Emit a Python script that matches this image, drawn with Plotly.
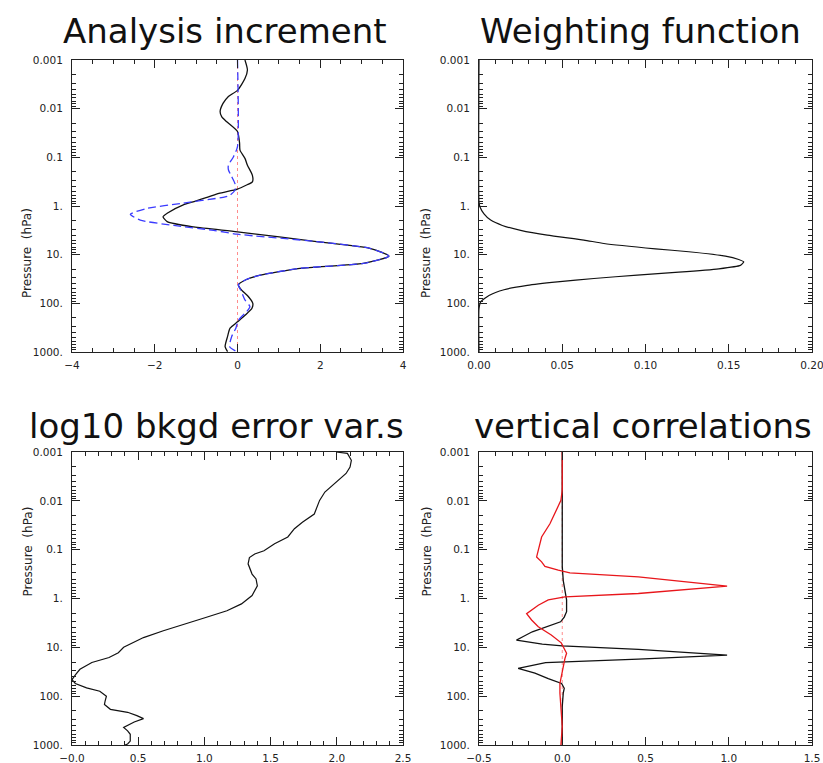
import plotly.graph_objects as go

# ---------------- data ----------------
# Panel 1: Analysis increment  (pressure hPa, increment)
inc_black_p = [0.001, 0.0016, 0.0024, 0.0042, 0.0056, 0.0078, 0.0115, 0.0148, 0.0186, 0.0295,
               0.051, 0.071, 0.105, 0.145, 0.234, 0.32, 0.37, 0.45, 0.55, 0.65, 0.81, 0.95,
               1.41, 1.66, 2.09, 2.69, 3.39, 5.37, 7.41, 10.7, 15.1, 19.1, 26.3, 33.1, 41.7,
               53.7, 72.4, 100, 126, 174, 240, 324, 479, 776, 980]
inc_black_x = [0.18, 0.24, 0.18, 0.0, -0.22, -0.35, -0.42, -0.38, -0.26, 0.0,
               0.05, 0.06, 0.18, 0.24, 0.36, 0.36, 0.22, 0.0, -0.45, -0.7, -1.05, -1.31,
               -1.7, -1.8, -1.7, -1.06, 0.0, 1.91, 3.2, 3.66, 3.04, 1.51, 0.55, 0.19, 0.02,
               0.1, 0.26, 0.37, 0.35, 0.19, 0.0, -0.18, -0.24, -0.3, -0.24]
inc_blue_p = [0.001, 0.06, 0.098, 0.145, 0.18, 0.25, 0.35, 0.47, 0.6, 0.65, 0.89, 1.12, 1.48,
              1.95, 2.51, 3.16, 3.8, 5.37, 7.41, 10.7, 15.1, 19.1, 26.3, 33.1, 41.7, 53.7,
              85, 117, 148, 224, 324, 479, 776, 1000]
inc_blue_x = [0.0, 0.0, -0.1, -0.22, -0.22, -0.14, -0.06, -0.06, -0.18, -0.3, -1.38, -2.18,
              -2.59, -2.35, -1.54, -0.58, 0.0, 1.91, 3.2, 3.66, 3.04, 1.51, 0.55, 0.19, 0.02,
              0.08, 0.18, 0.3, 0.22, 0.02, -0.04, -0.14, -0.19, 0.0]

# Panel 2: Weighting function
wf_p = [0.001, 0.81, 1.05, 1.45, 1.95, 2.51, 3.16, 3.98, 5.01, 5.89, 7.59, 8.71, 10.7, 12.6,
        14.1, 16.6, 19.5, 22.9, 26.3, 30.9, 36.3, 42.7, 52.5, 69.2, 93.3, 129, 1000]
wf_x = [0.0, 0.0, 0.0006, 0.003, 0.007, 0.014, 0.025, 0.041, 0.063, 0.075, 0.106, 0.126, 0.148,
        0.156, 0.159, 0.157, 0.144, 0.12, 0.095, 0.069, 0.047, 0.029, 0.015, 0.006, 0.001, 0.0, 0.0]

# Panel 3: log10 background error variances
var_p = [0.001, 0.00107, 0.00148, 0.00204, 0.00275, 0.00417, 0.0066, 0.0098, 0.0186, 0.0275,
         0.0372, 0.055, 0.0759, 0.105, 0.123, 0.145, 0.195, 0.316, 0.398, 0.55, 0.87, 1.29,
         1.78, 2.45, 3.31, 4.57, 6.31, 7.94, 10.0, 12.9, 16.2, 20.4, 28.2, 35.5, 45.7, 55,
         67.6, 79.4, 100, 126, 148, 186, 214, 251, 288, 339, 437, 513, 603, 832, 955, 1000]
var_x = [1.995, 2.08, 2.11, 2.10, 2.07, 1.99, 1.91, 1.87, 1.83, 1.74,
         1.68, 1.63, 1.53, 1.45, 1.38, 1.34, 1.33, 1.36, 1.39, 1.40, 1.36, 1.28,
         1.17, 1.01, 0.85, 0.69, 0.54, 0.47, 0.39, 0.35, 0.28, 0.15, 0.06, 0.03, 0.0, 0.025,
         0.11, 0.21, 0.26, 0.25, 0.245, 0.29, 0.42, 0.49, 0.54, 0.47, 0.39, 0.42, 0.44, 0.44, 0.42, 0.40]

# Panel 4: vertical correlations
cor_black_p = [0.001, 0.0052, 0.0135, 0.065, 0.22, 0.43, 0.78, 1.07, 1.86, 2.4, 3.0, 3.8, 4.8,
               6.0, 7.1, 8.6, 9.3, 10.96, 14.4, 17.4, 20.6, 27, 33.9, 43.7, 55, 69, 87, 162, 417, 1000]
cor_black_x = [0.0, 0.0, -0.004, 0.0, 0.0, 0.006, 0.02, 0.026, 0.026, 0.012, -0.01, -0.09, -0.18,
               -0.234, -0.275, -0.12, 0.0, 0.457, 0.99, 0.457, -0.10, -0.265, -0.164, -0.084,
               -0.004, 0.012, 0.006, 0.0, 0.0, 0.0]
cor_red_p = [0.001, 0.006, 0.0098, 0.0155, 0.0295, 0.055, 0.0955, 0.141, 0.178, 0.22, 0.263,
             0.298, 0.36, 0.557, 0.79, 0.93, 1.07, 1.37, 2.04, 2.75, 3.8, 5.6, 8.1, 13.2, 17,
             25, 55, 87, 174, 417, 1000]
cor_red_x = [0.0, 0.0, -0.008, -0.034, -0.074, -0.124, -0.144, -0.154, -0.124, -0.104, -0.024,
             0.046, 0.457, 0.99, 0.457, 0.016, -0.084, -0.144, -0.214, -0.184, -0.144, -0.066,
             -0.006, 0.026, 0.016, 0.006, -0.014, -0.014, -0.006, 0.0, -0.008]

# axis tick labels
p_tickvals = [0.001, 0.01, 0.1, 1, 10, 100, 1000]
p_ticktext = ["0.001", "0.01", "0.1", "1.", "10.", "100.", "1000."]
x1_vals = [-4, -2, 0, 2, 4]
x1_text = ["\u22124", "\u22122", "0", "2", "4"]
x2_vals = [0.0, 0.05, 0.10, 0.15, 0.20]
x2_text = ["0.00", "0.05", "0.10", "0.15", "0.20"]
x3_vals = [0.0, 0.5, 1.0, 1.5, 2.0, 2.5]
x3_text = ["\u22120.0", "0.5", "1.0", "1.5", "2.0", "2.5"]
x4_vals = [-0.5, 0.0, 0.5, 1.0, 1.5]
x4_text = ["\u22120.5", "0.0", "0.5", "1.0", "1.5"]

titles = ["Analysis increment", "Weighting function", "log10 bkgd error var.s", "vertical correlations"]

# ---------------- figure ----------------
W, H = 823, 763
fig = go.Figure()

BLACK = "#111111"
fig.add_trace(go.Scatter(x=[0, 0], y=[0.001, 1000], mode="lines", xaxis="x", yaxis="y",
                         line=dict(color="#ff8c8c", width=1, dash="dot")))
fig.add_trace(go.Scatter(x=inc_black_x, y=inc_black_p, mode="lines", xaxis="x", yaxis="y",
                         line=dict(color=BLACK, width=1.3, shape="spline", smoothing=0.6)))
fig.add_trace(go.Scatter(x=inc_blue_x, y=inc_blue_p, mode="lines", xaxis="x", yaxis="y",
                         line=dict(color="#3b3bff", width=1.3, dash="8px,4px", shape="spline", smoothing=0.6)))

fig.add_trace(go.Scatter(x=wf_x, y=wf_p, mode="lines", xaxis="x2", yaxis="y2",
                         line=dict(color=BLACK, width=1.2, shape="spline", smoothing=0.5)))

fig.add_trace(go.Scatter(x=var_x, y=var_p, mode="lines", xaxis="x3", yaxis="y3",
                         line=dict(color=BLACK, width=1.2)))

fig.add_trace(go.Scatter(x=[0, 0], y=[0.001, 1000], mode="lines", xaxis="x4", yaxis="y4",
                         line=dict(color="#ff8c8c", width=1, dash="dot")))
fig.add_trace(go.Scatter(x=cor_black_x, y=cor_black_p, mode="lines", xaxis="x4", yaxis="y4",
                         line=dict(color=BLACK, width=1.3)))
fig.add_trace(go.Scatter(x=cor_red_x, y=cor_red_p, mode="lines", xaxis="x4", yaxis="y4",
                         line=dict(color="#e8161b", width=1.3)))

colx = [(72, 403), (479, 812)]
rowy = [(60, 352), (452, 745)]
panels = [
    (0, 0, [-4, 4], x1_vals, x1_text, 0.5),
    (1, 0, [0, 0.2], x2_vals, x2_text, 0.01),
    (0, 1, [0, 2.5], x3_vals, x3_text, 0.1),
    (1, 1, [-0.5, 1.5], x4_vals, x4_text, 0.1),
]
minor_p = [m * 10.0 ** e for e in range(-3, 3) for m in range(2, 10)]
tickfont = dict(family="DejaVu Sans", size=10.5, color="#222222")

layout = dict(width=W, height=H, margin=dict(l=0, r=0, t=0, b=0, autoexpand=False),
              paper_bgcolor="white", plot_bgcolor="white", showlegend=False)
annotations = []
for i, (c, r, xr, xv, xt, mdt) in enumerate(panels):
    sfx = "" if i == 0 else str(i + 1)
    x0, x1 = colx[c]
    y0, y1 = rowy[r]
    layout["xaxis" + sfx] = dict(
        domain=[x0 / W, x1 / W], range=xr, anchor="y" + sfx, automargin=False,
        tickmode="array", tickvals=xv, ticktext=xt, ticks="inside", ticklen=8,
        tickcolor="#222", showline=True, linecolor="#222", linewidth=1, mirror="allticks",
        showgrid=False, zeroline=False, tickfont=tickfont, ticklabelstandoff=3,
        ticklabeloverflow="allow",
        minor=dict(ticks="inside", ticklen=4, dtick=mdt, tick0=xr[0], tickcolor="#222", showgrid=False),
    )
    layout["yaxis" + sfx] = dict(
        domain=[1 - y1 / H, 1 - y0 / H], type="log", range=[3, -3], anchor="x" + sfx, automargin=False,
        tickmode="array", tickvals=p_tickvals, ticktext=p_ticktext, ticks="inside", ticklen=8,
        tickcolor="#222", showline=True, linecolor="#222", linewidth=1, mirror="allticks",
        showgrid=False, zeroline=False, tickfont=tickfont, ticklabelstandoff=6,
        ticklabeloverflow="allow",
        minor=dict(ticks="inside", ticklen=4, tickmode="array", tickvals=minor_p, tickcolor="#222", showgrid=False),
    )
    # y-axis title
    annotations.append(dict(text="Pressure  (hPa)", x=(18 if c == 0 else 426) / W, y=1 - ((y0 + y1) / 2) / H,
                            xref="paper", yref="paper", showarrow=False, textangle=-90,
                            font=dict(family="DejaVu Sans", size=12, color="#222")))

title_pos = [(225, 31), (640, 31), (216, 426), (643, 426)]
for t, (tx, ty) in zip(titles, title_pos):
    annotations.append(dict(text=t, x=tx / W, y=1 - ty / H, xref="paper", yref="paper",
                            showarrow=False, xanchor="center", yanchor="middle",
                            font=dict(family="DejaVu Sans", size=34, color="#111")))
layout["annotations"] = annotations
fig.update_layout(**layout)
fig.write_html("out.html", config={"displayModeBar": False})

# remove the default page margin so the 823x763 figure fills the window exactly
with open("out.html", "r", encoding="utf-8") as f:
    html = f.read()
html = html.replace("<head>", "<head><style>html,body{margin:0;padding:0;overflow:hidden;}</style>", 1)
with open("out.html", "w", encoding="utf-8") as f:
    f.write(html)
